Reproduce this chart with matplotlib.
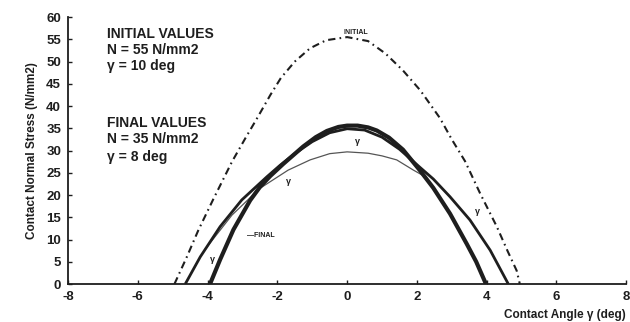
import matplotlib
matplotlib.use("Agg")
import matplotlib.pyplot as plt

plt.rcParams['font.family'] = ['Liberation Sans', 'DejaVu Sans']
plt.rcParams['axes.unicode_minus'] = False

# stress distributions along the contact, angle in deg, stress in N/mm2
initialAngle = [-4.95, -4.6, -4.27, -3.84, -3.3, -2.9, -2.6, -2.2, -1.9, -1.5, -1.06, -0.6, 0,
                0.6, 1.1, 1.6, 2.1, 2.66, 3.0, 3.38, 3.81, 4.29, 4.6, 4.86, 4.95]
initialStress = [0, 6.0, 12.0, 19.0, 27.5, 33.0, 37.0, 42.5, 46.3, 50.0, 53.0, 54.8, 55.5,
                 54.6, 51.8, 48.0, 43.5, 37.3, 32.5, 27.6, 20.4, 12.9, 7.4, 3.0, 0]

finalAngle = [-3.93, -3.64, -3.26, -2.78, -2.5, -2.2, -1.83, -1.26, -0.9, -0.58, -0.25, 0,
              0.3, 0.6, 0.85, 1.2, 1.6, 2.09, 2.47, 2.95, 3.43, 3.7, 3.98]
finalStress = [0, 5.5, 12.2, 18.8, 21.8, 24.3, 27.0, 30.9, 33.0, 34.4, 35.3, 35.6,
               35.6, 35.2, 34.5, 32.9, 30.2, 25.5, 21.6, 15.8, 9.0, 5.0, 0]

midAngle = [-4.64, -4.21, -3.64, -3.02, -2.3, -1.92, -1.5, -1.0, -0.5, 0, 0.5, 1.0, 1.5,
            2.09, 2.47, 2.95, 3.52, 4.1, 4.62]
midStress = [0, 6.1, 12.9, 18.9, 24.1, 26.7, 29.3, 32.0, 34.0, 34.9, 34.6, 33.0, 30.3,
             26.2, 23.6, 19.6, 14.4, 7.6, 0]

thinAngle = [-4.1, -3.3, -2.5, -1.69, -1.06, -0.5, 0, 0.6, 1.0, 1.42, 1.9, 2.15]
thinStress = [7.5, 15.5, 21.5, 25.6, 27.9, 29.3, 29.7, 29.4, 28.8, 27.9, 25.6, 24.5]

yTicks = [0, 5, 10, 15, 20, 25, 30, 35, 40, 45, 50, 55, 60]
xTicks = [-8, -6, -4, -2, 0, 2, 4, 6, 8]

ink = "#1e1e1e"

fig = plt.figure(figsize=(6.3, 3.22), dpi=100)
ax = fig.add_axes([0.108, 0.118, 0.886, 0.829])

ax.plot(initialAngle, initialStress, color=ink, lw=1.5, linestyle=(0, (3.5, 2, 0.8, 2)))
ax.plot(thinAngle, thinStress, color="#555555", lw=0.9)
ax.plot(midAngle, midStress, color=ink, lw=2.0, solid_capstyle="butt", solid_joinstyle="round")
ax.plot(finalAngle, finalStress, color=ink, lw=3.0, solid_capstyle="butt", solid_joinstyle="round")

ax.set_xlim(-8, 8)
ax.set_ylim(0, 60)
ax.set_xticks(xTicks)
ax.set_yticks(yTicks)
ax.tick_params(direction="in", length=3, width=1, colors=ink, labelsize=9.5, pad=5)
for lab in ax.get_xticklabels() + ax.get_yticklabels():
    lab.set_fontweight("bold")

ax.spines["top"].set_visible(False)
ax.spines["right"].set_visible(False)
for s in ["left", "bottom"]:
    ax.spines[s].set_linewidth(1.3)
    ax.spines[s].set_color(ink)

ax.set_ylabel("Contact Normal Stress (N/mm2)", fontsize=8.5, fontweight="bold", color=ink, labelpad=6)
ax.set_xlabel("Contact Angle \u03b3 (deg)", fontsize=8.5, fontweight="bold", color=ink, loc="right", labelpad=4)

# the two sets of parameters
block = dict(fontsize=10, fontweight="bold", color=ink, va="center")
ax.text(-6.88, 56.3, "INITIAL VALUES", **block)
ax.text(-6.88, 52.6, "N = 55 N/mm2", **block)
ax.text(-6.88, 48.9, "\u03b3 = 10 deg", **block)
ax.text(-6.88, 36.2, "FINAL VALUES", **block)
ax.text(-6.88, 32.7, "N = 35 N/mm2", **block)
ax.text(-6.88, 28.6, "\u03b3 = 8 deg", **block)

# curve tags
ax.text(0.25, 56.6, "INITIAL", fontsize=5, fontweight="bold", color=ink, ha="center", va="center")
ax.text(-2.87, 10.8, "\u2014FINAL", fontsize=5, fontweight="bold", color=ink, ha="left", va="center")
for gx, gy in [(0.3, 32.0), (-1.69, 23.0), (-3.85, 5.5), (3.74, 16.3)]:
    ax.text(gx, gy, "\u03b3", fontsize=6.5, fontweight="bold", color=ink, ha="center", va="center")

fig.savefig("out.png", dpi=100)
